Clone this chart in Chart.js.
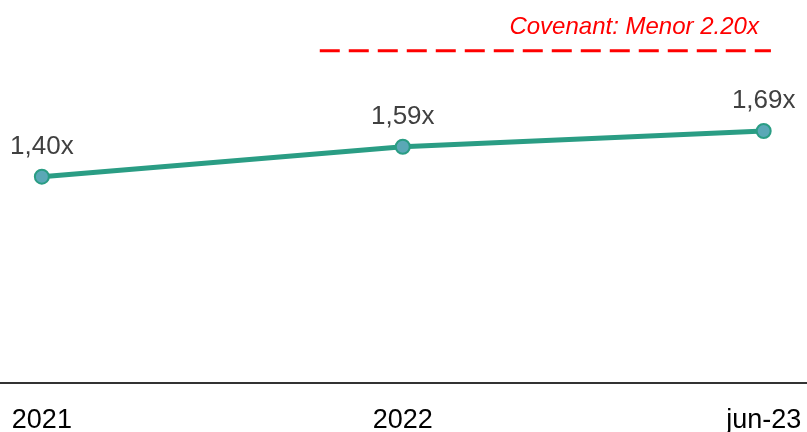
<!DOCTYPE html>
<html>
<head>
<meta charset="utf-8">
<script src="https://cdn.jsdelivr.net/npm/chart.js@4"></script>
<style>
  html, body { margin: 0; padding: 0; background: #ffffff; }
  #wrap { position: relative; width: 807px; height: 432px; }
</style>
</head>
<body>
<div id="wrap"><canvas id="chart"></canvas></div>
<script>
// categorias y valores (ratio)
const periodos = ['2021', '2022', 'jun-23'];
const ratio = [1.40, 1.59, 1.69];
const etiquetas = ['1,40x', '1,59x', '1,69x'];

// covenant
const covenantValor = 2.20;
const covenantDesde = 0.77;   // posicion en el eje x (entre 2021 y 2022)
const covenantHasta = 2.02;
const covenantTexto = 'Covenant: Menor 2.20x';

const verde = '#2a9d84';
const rojo = '#ff0000';

// dibuja las etiquetas de valor y el texto del covenant
const etiquetasPlugin = {
    id: 'etiquetas',
    afterDatasetsDraw(chart) {
        const ctx = chart.ctx;
        const meta = chart.getDatasetMeta(0);
        ctx.save();
        ctx.font = '26px "Liberation Sans", Arial, sans-serif';
        ctx.fillStyle = '#404040';
        ctx.textAlign = 'center';
        ctx.textBaseline = 'alphabetic';
        meta.data.forEach((pt, i) => {
            ctx.fillText(etiquetas[i], pt.x, pt.y - 23);
        });

        // texto del covenant, alineado a la derecha sobre la linea
        const metaCov = chart.getDatasetMeta(1);
        const fin = metaCov.data[metaCov.data.length - 1];
        ctx.font = 'italic 24px "Liberation Sans", Arial, sans-serif';
        ctx.fillStyle = rojo;
        ctx.textAlign = 'right';
        ctx.fillText(covenantTexto, fin.x - 12, fin.y - 17);
        ctx.restore();
    }
};

new Chart(document.getElementById('chart'), {
    type: 'line',
    data: {
        datasets: [
            {
                label: 'Ratio',
                data: ratio.map((v, i) => ({ x: i, y: v })),
                borderColor: verde,
                borderWidth: 5,
                pointRadius: 7,
                pointBackgroundColor: '#5aa8b6',
                pointBorderColor: verde,
                pointBorderWidth: 2,
                tension: 0
            },
            {
                label: 'Covenant',
                data: [{ x: covenantDesde, y: covenantValor }, { x: covenantHasta, y: covenantValor }],
                borderColor: rojo,
                borderWidth: 3,
                borderDash: [20, 9],
                pointRadius: 0
            }
        ]
    },
    options: {
        responsive: true,
        maintainAspectRatio: false,
        animation: false,
        layout: { autoPadding: false, padding: { top: 5, left: 0, right: 0, bottom: 0 } },
        scales: {
            x: {
                type: 'linear',
                min: -0.116,
                max: 2.12,
                afterBuildTicks: (axis) => { axis.ticks = periodos.map((p, i) => ({ value: i })); },
                afterFit: (axis) => {
                    // sin margenes laterales, el eje ocupa todo el ancho
                    axis.paddingLeft = 0;
                    axis.paddingRight = 0;
                    axis.height = 49;
                },
                ticks: {
                    autoSkip: false,
                    maxRotation: 0,
                    padding: 21,
                    color: '#000000',
                    font: { family: '"Liberation Sans", Arial, sans-serif', size: 27 },
                    callback: (v) => periodos[v]
                },
                grid: { display: false, drawTicks: false },
                border: { display: true, color: '#333333', width: 2 }
            },
            y: {
                min: 0.09,
                max: 2.49,
                display: false
            }
        },
        plugins: {
            legend: { display: false },
            tooltip: { enabled: false }
        }
    },
    plugins: [etiquetasPlugin]
});
</script>
</body>
</html>
